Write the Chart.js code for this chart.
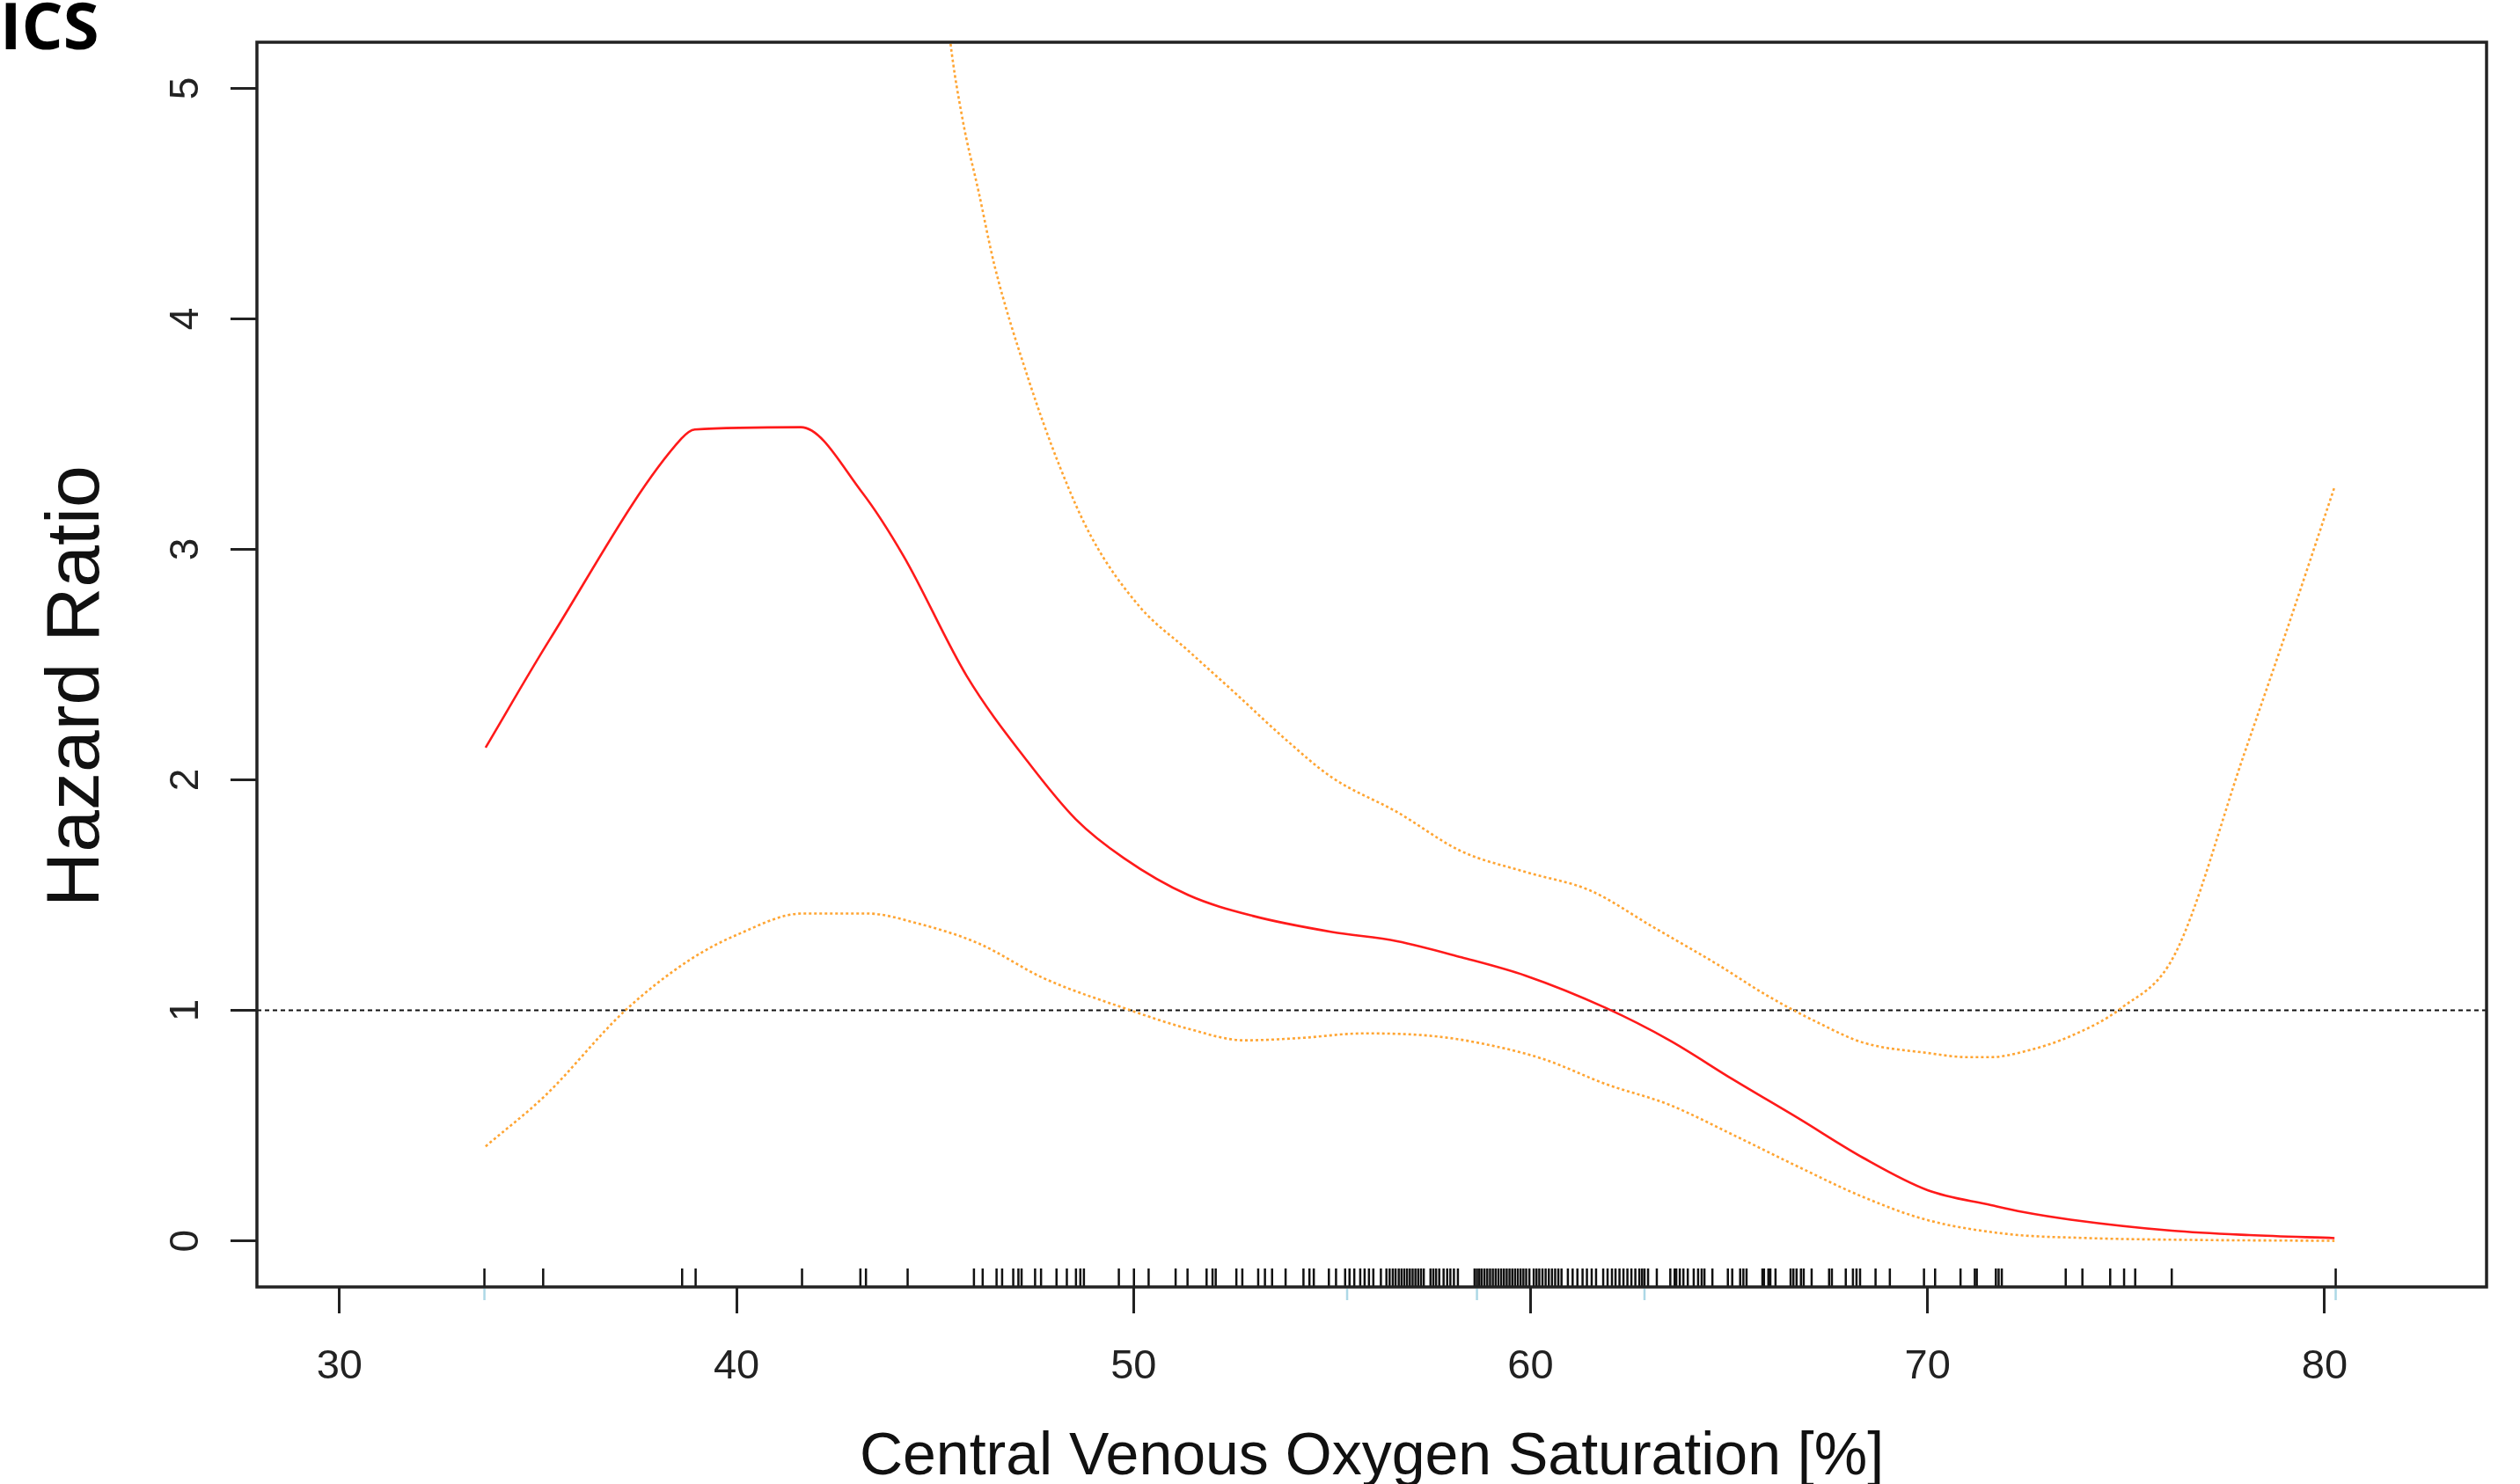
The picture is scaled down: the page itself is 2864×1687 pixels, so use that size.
<!DOCTYPE html>
<html>
<head>
<meta charset="utf-8">
<title>ICS - Hazard Ratio</title>
<script src="https://cdn.jsdelivr.net/npm/chart.js@4"></script>
<style>
    html, body { margin: 0; padding: 0; background: #fff; }
    #wrap { width: 2864px; height: 1687px; position: relative; }
</style>
</head>
<body>
<div id="wrap"><canvas id="hrChart"></canvas></div>
<script>
// Axis limits and tick labels
const xMin = 27.92, xMax = 84.08;
const yMin = -0.2, yMax = 5.2;
const xTicks = [30, 40, 50, 60, 70, 80];
const yTicks = [0, 1, 2, 3, 4, 5];

// Hazard ratio estimate (red solid line)
const hrX = [33.68, 35.3, 38.61, 38.95, 41.62, 43.15, 44.21, 45.8, 47.33, 48.54, 49.76, 51.38, 53.0, 55.0, 56.64,
             58.26, 59.88, 61.9, 63.5, 65.1, 66.76, 68.38, 70.0, 71.6, 72.4, 73.6, 76.15, 78.1, 80.25];
const hrY = [2.14, 2.61, 3.48, 3.52, 3.53, 3.25, 2.97, 2.45, 2.08, 1.83, 1.66, 1.50, 1.41, 1.34, 1.30,
             1.23, 1.15, 1.01, 0.87, 0.70, 0.53, 0.36, 0.22, 0.155, 0.125, 0.092, 0.044, 0.025, 0.012];

// Upper confidence limit (orange dotted)
const upperX = [45.0, 45.38, 45.7, 46.1, 46.5, 47.33, 48.14, 48.95, 50.16, 51.38, 52.6, 53.8, 55.0, 56.64, 58.26,
                59.88, 61.5, 63.1, 64.7, 65.95, 67.2, 68.38, 70.0, 71.0, 71.6, 72.4, 73.6, 74.87, 76.22, 77.98, 79.0, 80.25];
const upperY = [5.9, 5.21, 4.86, 4.55, 4.23, 3.75, 3.36, 3.05, 2.75, 2.56, 2.37, 2.18, 2.01, 1.86, 1.69,
                1.60, 1.52, 1.36, 1.20, 1.065, 0.95, 0.86, 0.815, 0.797, 0.797, 0.82, 0.888, 1.009, 1.24, 2.115, 2.625, 3.27];

// Lower confidence limit (orange dotted)
const lowerX = [33.68, 35.18, 37.2, 38.83, 40.04, 41.66, 43.3, 44.5, 46.1, 47.73, 49.76, 51.38, 52.8, 54.2,
                55.8, 57.45, 58.66, 60.3, 61.9, 63.5, 65.1, 66.76, 68.38, 70.0, 72.0, 74.05, 76.15, 80.25];
const lowerY = [0.41, 0.63, 1.0, 1.22, 1.33, 1.42, 1.42, 1.38, 1.29, 1.14, 1.01, 0.92, 0.87, 0.88,
                0.90, 0.89, 0.86, 0.79, 0.68, 0.59, 0.46, 0.32, 0.19, 0.09, 0.03, 0.012, 0.005, 0.0];

// Observed ScvO2 values (rug along the bottom)
const rugValues = [33.65, 35.13, 38.63, 38.97, 41.65, 43.12, 43.26, 44.31,
    45.98, 46.2, 46.55, 46.69, 46.97, 47.1, 47.18, 47.52, 47.67, 48.06, 48.32, 48.55, 48.66, 48.75, 49.63,
    50.01, 50.38, 51.06, 51.36, 51.84, 51.99, 52.07, 52.59, 52.74, 53.14, 53.31, 53.49, 53.83, 54.28, 54.43,
    54.54, 54.92, 55.1, 55.33, 55.44, 55.56, 55.71, 55.82, 55.93, 56.04, 56.23, 56.37, 56.45, 56.53, 56.6,
    56.68, 56.75, 56.82, 56.89, 56.96, 57.03, 57.1, 57.17, 57.24, 57.31, 57.48, 57.55, 57.62, 57.7, 57.81,
    57.9, 57.98, 58.07, 58.17, 58.59, 58.65, 58.71, 58.77, 58.84, 58.91, 58.98, 59.05, 59.12, 59.19, 59.26,
    59.33, 59.4, 59.47, 59.54, 59.61, 59.68, 59.75, 59.82, 59.89, 59.97, 60.08, 60.15, 60.22, 60.3, 60.38,
    60.46, 60.54, 60.62, 60.7, 60.78, 60.94, 61.06, 61.18, 61.31, 61.42, 61.54, 61.65, 61.83, 61.94, 62.05,
    62.14, 62.24, 62.34, 62.44, 62.54, 62.64, 62.74, 62.81, 62.87, 62.96, 63.18, 63.52, 63.63, 63.67, 63.76,
    63.85, 63.96, 64.11, 64.22, 64.31, 64.38, 64.58, 64.97, 65.08, 65.28, 65.36, 65.44, 65.84, 65.88, 65.99,
    66.04, 66.17, 66.55, 66.62, 66.7, 66.81, 66.88, 67.08, 67.52, 67.59, 67.94, 68.12, 68.21, 68.3, 68.69,
    69.05, 69.91, 70.19, 70.83, 71.19, 71.24, 71.72, 71.79, 71.87, 73.48, 73.9, 74.6, 74.95, 75.23, 76.15, 80.28];

// Spline knots (small light blue marks under the axis)
const knotValues = [33.65, 55.38, 58.65, 62.87, 80.28];

const FONT = '"Liberation Sans", Arial, sans-serif';

function toPoints(xs, ys) {
    return xs.map((x, i) => ({ x: x, y: ys[i] }));
}

// Box, rotated y tick labels, y title and panel letter (R base graphics look)
const rStylePlugin = {
    id: 'rStyle',
    afterDraw(chart) {
        const { ctx, chartArea, scales: { y } } = chart;
        ctx.save();

        ctx.font = '46px ' + FONT;
        ctx.fillStyle = '#222';
        ctx.textAlign = 'center';
        ctx.textBaseline = 'middle';
        y.ticks.forEach(t => {
            const py = y.getPixelForValue(t.value);
            ctx.save();
            ctx.translate(212, py);
            ctx.rotate(-Math.PI / 2);
            ctx.fillText(String(t.value), 0, 0);
            ctx.restore();
        });

        // y axis title, a bit below the middle of the axis like the original
        ctx.save();
        ctx.font = '86px ' + FONT;
        ctx.fillStyle = '#111';
        ctx.translate(88, 780);
        ctx.rotate(-Math.PI / 2);
        ctx.fillText('Hazard Ratio', 0, 0);
        ctx.restore();

        ctx.strokeStyle = '#222';
        ctx.lineWidth = 3.5;
        ctx.strokeRect(chartArea.left, chartArea.top, chartArea.width, chartArea.height);

        ctx.font = 'bold 74px "Open Sans", sans-serif';
        ctx.fillStyle = '#000';
        ctx.textAlign = 'left';
        ctx.textBaseline = 'alphabetic';
        ctx.fillText('ICS', 0, 56);

        ctx.restore();
    }
};

const ctx = document.getElementById('hrChart').getContext('2d');
const hrChart = new Chart(ctx, {
    type: 'scatter',
    data: {
        datasets: [
            {
                label: 'Hazard ratio',
                type: 'line',
                data: toPoints(hrX, hrY),
                borderColor: '#ff1a1a',
                borderWidth: 2.6,
                pointRadius: 0,
                cubicInterpolationMode: 'monotone'
            },
            {
                label: 'Upper CI',
                type: 'line',
                data: toPoints(upperX, upperY),
                borderColor: '#ffa533',
                borderWidth: 2.6,
                borderDash: [3, 3],
                pointRadius: 0,
                cubicInterpolationMode: 'monotone'
            },
            {
                label: 'Lower CI',
                type: 'line',
                data: toPoints(lowerX, lowerY),
                borderColor: '#ffa533',
                borderWidth: 2.6,
                borderDash: [3, 3],
                pointRadius: 0,
                cubicInterpolationMode: 'monotone'
            },
            {
                label: 'HR = 1',
                type: 'line',
                data: [{ x: xMin, y: 1 }, { x: xMax, y: 1 }],
                borderColor: '#111',
                borderWidth: 2,
                borderDash: [5, 4],
                pointRadius: 0
            },
            {
                label: 'Observations',
                data: rugValues.map(v => ({ x: v, y: -0.16 })),
                pointStyle: 'line',
                rotation: 90,
                radius: 10.5,
                borderColor: '#111',
                borderWidth: 2.5
            },
            {
                label: 'Knots',
                data: knotValues.map(v => ({ x: v, y: -0.2325 })),
                pointStyle: 'line',
                rotation: 90,
                radius: 6.5,
                borderColor: '#add8e6',
                borderWidth: 2.5,
                clip: false
            }
        ]
    },
    options: {
        responsive: true,
        maintainAspectRatio: false,
        animation: false,
        events: [],
        layout: { padding: { left: 0, top: 48, right: 38, bottom: 0 } },
        plugins: {
            legend: { display: false },
            tooltip: { enabled: false }
        },
        scales: {
            x: {
                type: 'linear',
                min: xMin,
                max: xMax,
                afterBuildTicks: s => { s.ticks = xTicks.map(v => ({ value: v })); },
                afterFit: s => { s.height = 224; },
                grid: { drawOnChartArea: false, tickLength: 30, lineWidth: 3, color: '#222' },
                border: { display: false },
                ticks: {
                    padding: 33,
                    color: '#222',
                    font: { family: FONT, size: 47 },
                    callback: v => String(v)
                },
                title: {
                    display: true,
                    text: 'Central Venous Oxygen Saturation [%]',
                    color: '#111',
                    font: { family: FONT, size: 68 },
                    padding: { top: 0, bottom: -11 }
                }
            },
            y: {
                type: 'linear',
                min: yMin,
                max: yMax,
                afterBuildTicks: s => { s.ticks = yTicks.map(v => ({ value: v })); },
                afterFit: s => { s.width = 292; },
                grid: { drawOnChartArea: false, tickLength: 30, lineWidth: 3, color: '#222' },
                border: { display: false },
                ticks: { display: false }
            }
        }
    },
    plugins: [rStylePlugin]
});
</script>
</body>
</html>
